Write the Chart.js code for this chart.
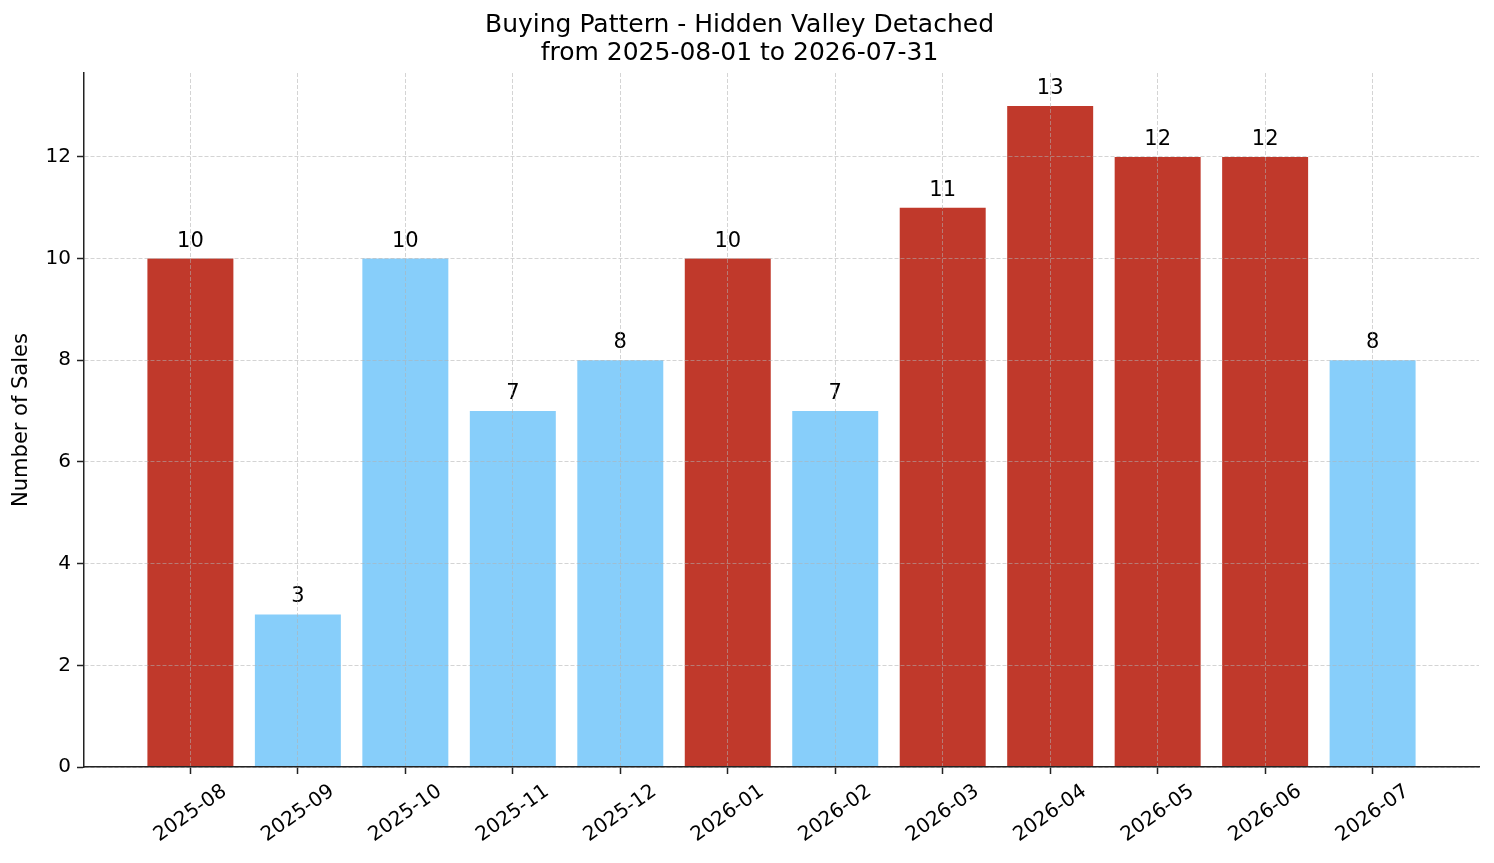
<!DOCTYPE html>
<html>
<head>
<meta charset="utf-8">
<title>Buying Pattern - Hidden Valley Detached</title>
<script src="https://cdn.jsdelivr.net/npm/chart.js@4.4.1/dist/chart.umd.min.js"></script>
<style>
  html, body { margin: 0; padding: 0; background: #fff; }
  #wrap { width: 1494px; height: 863px; }
</style>
</head>
<body>
<div id="wrap"><canvas id="salesChart" width="1494" height="863"></canvas></div>
<script>
// chart data
const months = ['2025-08', '2025-09', '2025-10', '2025-11', '2025-12', '2026-01',
                '2026-02', '2026-03', '2026-04', '2026-05', '2026-06', '2026-07'];
const sales = [10, 3, 10, 7, 8, 10, 7, 11, 13, 12, 12, 8];
const highlighted = [1, 0, 0, 0, 0, 1, 0, 1, 1, 1, 1, 0];
const yTicks = [0, 2, 4, 6, 8, 10, 12];
const titleLines = ['Buying Pattern - Hidden Valley Detached', 'from 2025-08-01 to 2026-07-31'];

const FONT = "'DejaVu Sans', sans-serif";
const RED = '#c0392b';
const BLUE = '#87cefa';
const GRID = 'rgba(176, 176, 176, 0.55)';
const SPINE = '#222';

// value labels above each bar
const valueLabels = {
    id: 'valueLabels',
    afterDatasetsDraw(chart) {
        const ctx = chart.ctx;
        const meta = chart.getDatasetMeta(0);
        ctx.save();
        ctx.font = '21px ' + FONT;
        ctx.fillStyle = '#000';
        ctx.textAlign = 'center';
        ctx.textBaseline = 'alphabetic';
        meta.data.forEach((bar, i) => {
            ctx.fillText(String(sales[i]), bar.x, bar.y - 12);
        });
        ctx.restore();
    }
};

// rotated month labels, centred under each tick like matplotlib
const monthLabels = {
    id: 'monthLabels',
    afterDraw(chart) {
        const ctx = chart.ctx;
        const xs = chart.scales.x;
        const angle = 35 * Math.PI / 180;
        ctx.save();
        ctx.font = '20px ' + FONT;
        ctx.fillStyle = '#000';
        ctx.textAlign = 'center';
        ctx.textBaseline = 'middle';
        const top = chart.chartArea.bottom + 7 + 9;
        months.forEach((m, i) => {
            const w = ctx.measureText(m).width;
            const h = 16;
            const H = w * Math.sin(angle) + h * Math.cos(angle);
            const x = xs.getPixelForValue(i);
            ctx.save();
            ctx.translate(x, top + H / 2);
            ctx.rotate(-angle);
            ctx.fillText(m, 0, 0);
            ctx.restore();
        });
        ctx.restore();
    }
};

function setupSalesChart() {
    const ctx = document.getElementById('salesChart').getContext('2d');
    new Chart(ctx, {
        type: 'bar',
        data: {
            datasets: [{
                data: sales.map((v, i) => ({ x: i, y: v })),
                backgroundColor: highlighted.map(h => h ? RED : BLUE),
                borderWidth: 0,
                categoryPercentage: 0.8,
                barPercentage: 1.0
            }]
        },
        options: {
            responsive: false,
            animation: false,
            devicePixelRatio: 1,
            layout: { padding: { top: 0, right: 15, bottom: 0, left: 0 } },
            plugins: {
                legend: { display: false },
                tooltip: { enabled: false },
                title: {
                    display: true,
                    text: titleLines,
                    color: '#000',
                    font: { family: FONT, size: 25, weight: 'normal', lineHeight: 1.12 },
                    padding: { top: 11, bottom: 6 }
                }
            },
            scales: {
                x: {
                    type: 'linear',
                    offset: false,
                    min: -0.99,
                    max: 11.99,
                    afterBuildTicks: axis => { axis.ticks = months.map((m, i) => ({ value: i })); },
                    afterFit: axis => { axis.height = 96; },
                    ticks: { display: false },
                    grid: {
                        offset: false,
                        color: GRID,
                        lineWidth: 1,
                        z: 1,
                        drawTicks: true,
                        tickLength: 7,
                        tickColor: SPINE,
                        tickWidth: 1.5
                    },
                    border: { display: true, color: SPINE, width: 1.5, dash: [4, 2], z: 2 }
                },
                y: {
                    min: 0,
                    max: 13.65,
                    afterBuildTicks: axis => { axis.ticks = yTicks.map(v => ({ value: v })); },
                    afterFit: axis => { axis.width = 84; },
                    ticks: {
                        color: '#000',
                        font: { family: FONT, size: 20 },
                        padding: 6
                    },
                    grid: {
                        color: GRID,
                        lineWidth: 1,
                        z: 1,
                        drawTicks: true,
                        tickLength: 7,
                        tickColor: SPINE,
                        tickWidth: 1.5
                    },
                    border: { display: true, color: SPINE, width: 1.5, dash: [4, 2], z: 2 },
                    title: {
                        display: true,
                        text: 'Number of Sales',
                        color: '#000',
                        font: { family: FONT, size: 21 },
                        padding: { top: 9, bottom: 0 }
                    }
                }
            }
        },
        plugins: [valueLabels, monthLabels]
    });
}

document.addEventListener('DOMContentLoaded', () => {
    setupSalesChart();
});
</script>
</body>
</html>
